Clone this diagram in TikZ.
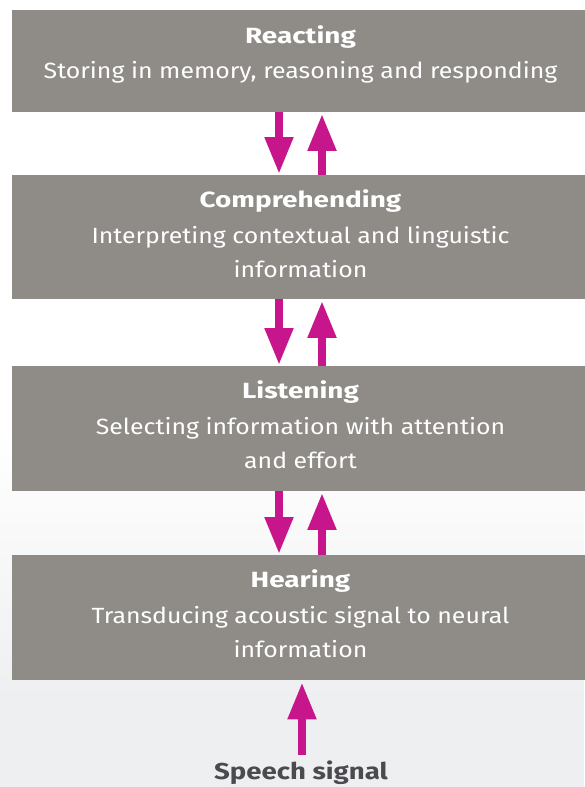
\documentclass[tikz,border=0pt]{standalone}
\usepackage{fontspec}
\setmainfont{Fira Sans}
\newfontfamily\bodyf[FakeStretch=1.13]{Fira Sans}
\newfontfamily\ttlf[FakeStretch=1.27]{Fira Sans}
\newfontfamily\sigf[FakeStretch=1.2]{Fira Sans}
\usetikzlibrary{arrows.meta}
\definecolor{boxgray}{RGB}{143,139,135}
\definecolor{mag}{RGB}{199,21,140}
\definecolor{bgbot}{RGB}{238,239,240}
\definecolor{sig}{RGB}{74,74,79}
\begin{document}
\begin{tikzpicture}[x=1pt,y=-1pt,
  stage/.style={fill=boxgray,draw=none,rectangle,inner sep=0pt,anchor=north west},
  ttl/.style={text=white,font=\ttlf\bfseries\fontsize{22}{26}\selectfont,inner sep=0pt,anchor=base},
  body/.style={text=white,font=\bodyf\fontsize{22}{26}\selectfont,inner sep=0pt,anchor=base},
  arr/.style={draw=mag,line width=8pt,-{Triangle[width=27pt,length=37pt]}}]
\useasboundingbox (0,0) rectangle (584,787);
\fill[white] (0,0) rectangle (584,787);
\shade[top color=white,bottom color=bgbot] (0,430) rectangle (584,700);
\fill[bgbot] (0,700) rectangle (584,787);
% boxes
\node[stage,minimum width=578pt,minimum height=102pt] (b1) at (12,10) {};
\node[stage,minimum width=578pt,minimum height=124pt] (b2) at (12,175) {};
\node[stage,minimum width=578pt,minimum height=125pt] (b3) at (12,366) {};
\node[stage,minimum width=578pt,minimum height=125pt] (b4) at (12,555) {};
% texts
\node[ttl] (t1) at (300.5,43) {Reacting};
\node[body] (d1) at (300.5,78) {Storing in memory, reasoning and responding};
\node[ttl] (t2) at (300.5,207) {Comprehending};
\node[body] (d2) at (300.5,243) {Interpreting contextual and linguistic};
\node[body] (e2) at (300.5,277) {information};
\node[ttl] (t3) at (300.5,398) {Listening};
\node[body] (d3) at (300.5,434) {Selecting information with attention};
\node[body] (e3) at (300.5,468) {and effort};
\node[ttl] (t4) at (300.5,587) {Hearing};
\node[body] (d4) at (300.5,623) {Transducing acoustic signal to neural};
\node[body] (e4) at (300.5,657) {information};
\node[text=sig,font=\sigf\bfseries\fontsize{23}{26}\selectfont,inner sep=0pt,anchor=base] (s) at (301,779) {Speech signal};
% arrow columns
\coordinate (dn) at (279,0);
\coordinate (up) at (322,0);
\coordinate (sx) at (302,0);
\coordinate (stail) at (302,755);
\draw[arr,shorten >=1pt] (b1.south -| dn) -- (b2.north -| dn);
\draw[arr,shorten >=1.5pt] (b2.north -| up) -- (b1.south -| up);
\draw[arr,shorten >=1pt] (b2.south -| dn) -- (b3.north -| dn);
\draw[arr,shorten >=1.5pt] (b3.north -| up) -- (b2.south -| up);
\draw[arr,shorten >=1pt] (b3.south -| dn) -- (b4.north -| dn);
\draw[arr,shorten >=1.5pt] (b4.north -| up) -- (b3.south -| up);
\draw[arr,shorten >=2pt] (stail) -- (b4.south -| sx);
\end{tikzpicture}
\end{document}
